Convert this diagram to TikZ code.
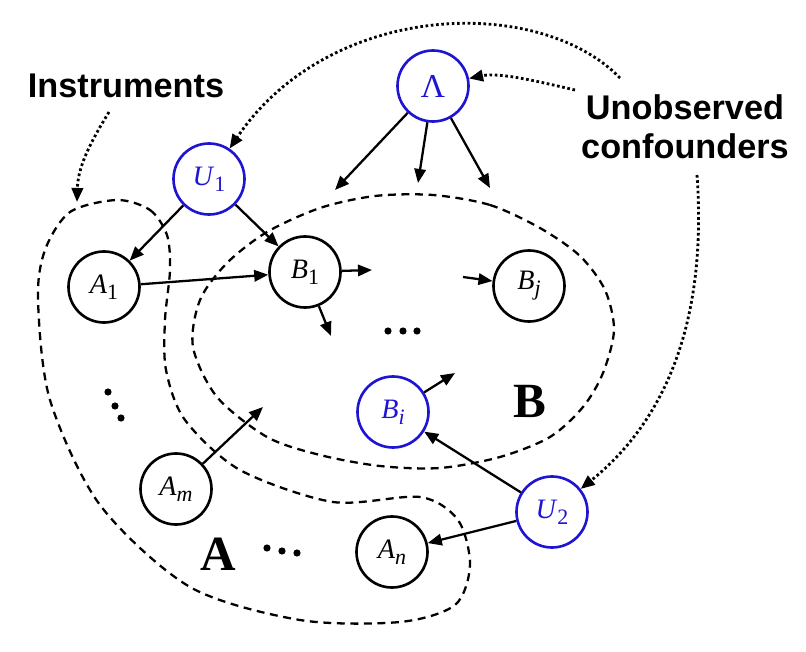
\documentclass[tikz,border=0pt]{standalone}
\usepackage{fontspec}
\setmainfont{Liberation Serif}
\newfontfamily\labelfont{Liberation Sans}
\usetikzlibrary{arrows.meta}
\definecolor{nodeblue}{RGB}{30,20,210}
\newcommand\varlab[2]{\textit{#1}\raisebox{-0.45ex}{\fontsize{12.5}{13}\selectfont #2}}

\begin{document}
\begin{tikzpicture}[x=0.2mm,y=-0.2mm,
    var/.style={circle,draw,line width=1.5pt,minimum size=14.2mm,inner sep=0pt,font=\fontsize{16}{17}\selectfont},
    hidden/.style={var,draw=nodeblue,text=nodeblue},
    edge/.style={line width=1.3pt,-{Triangle[length=8pt,width=6.5pt]}},
    hint/.style={line width=1.6pt,dash pattern=on 1.5pt off 1.5pt,-{Triangle[length=8pt,width=6.5pt]}},
    group/.style={line width=1.3pt,dash pattern=on 4.5pt off 3.2pt},
    setname/.style={font=\fontsize{28}{30}\selectfont\bfseries},
    note/.style={font=\labelfont\bfseries\fontsize{19.5}{22}\selectfont,align=center}
  ]
  \useasboundingbox (0,0) rectangle (806,652);

  % sets A and B
  \draw[group] plot[smooth cycle] coordinates {(117,200) (150,210) (167,235) (170,270) (165,320) (166,370) (185,420) (240,470) (333,502) (420,497) (458,520) (470,565) (455,605) (400,622) (300,620) (190,587) (100,505) (50,400) (38,300) (45,250) (70,212)};
  \draw[group] plot[smooth cycle] coordinates {(433,195) (490,205) (540,228) (580,256) (605,290) (614,330) (603,373) (583,407) (550,437) (500,457) (440,468) (380,466) (320,455) (267,437) (217,397) (193,347) (200,300) (227,263) (267,232) (320,208) (375,196)};

  % variables
  \node[hidden,font=\fontsize{19}{20}\selectfont] (lam) at (433,86) {Λ};
  \node[hidden] (u1) at (209,179) {\varlab{U}{1}};
  \node[hidden] (u2) at (552,512) {\varlab{U}{2}};
  \node[hidden] (bi) at (393,412) {\varlab{B}{\textit{i}}};
  \node[var] (a1) at (104,287) {\varlab{A}{1}};
  \node[var] (am) at (176,489) {\varlab{A}{\textit{m}}};
  \node[var] (an) at (392,552) {\varlab{A}{\textit{n}}};
  \node[var] (b1) at (305,272) {\varlab{B}{1}};
  \node[var] (bj) at (529,286) {\varlab{B}{\textit{j}}};

  \node[setname] (setA) at (218,554) {A};
  \node[setname] (setB) at (530,401) {B};
  \node[note] (inst) at (126,86) {Instruments};
  \node[note] (conf) at (685,127) {Unobserved\\confounders};

  % dots
  \foreach \p in {(108,392),(115,406),(121,418),(388,331),(403,331),(417,331),(267,548),(282,551),(297,553)}
    \fill \p circle (3.6);

  % free arrow ends
  \coordinate (lamL) at (335,190);
  \coordinate (lamM) at (418,183);
  \coordinate (lamR) at (490,188);
  \coordinate (b1R) at (372,270);
  \coordinate (b1D) at (331,336);
  \coordinate (bjIn) at (463,277);
  \coordinate (biOut) at (455,373);
  \coordinate (amOut) at (263,407);

  \draw[edge] (lam) -- (lamL);
  \draw[edge] (lam) -- (lamM);
  \draw[edge] (lam) -- (lamR);
  \draw[edge] (u1) -- (a1);
  \draw[edge] (u1) -- (b1);
  \draw[edge] (a1) -- (b1);
  \draw[edge] (b1) -- (b1R);
  \draw[edge] (b1) -- (b1D);
  \draw[edge] (bjIn) -- (bj);
  \draw[edge] (bi) -- (biOut);
  \draw[edge] (am) -- (amOut);
  \draw[edge] (u2) -- (bi);
  \draw[edge] (u2) -- (an);

  % pointers from the labels
  \coordinate (confTL) at (620,78);
  \coordinate (confL) at (575,90);
  \coordinate (confB) at (697,175);
  \coordinate (instB) at (109,112);
  \coordinate (aTop) at (77,202);
  \draw[hint] (confTL) .. controls (540,-5) and (330,0) .. (u1);
  \draw[hint] (confL) .. controls (540,82) and (500,72) .. (lam);
  \draw[hint] (confB) .. controls (708,330) and (660,425) .. (u2);
  \draw[hint] (instB) .. controls (92,140) and (78,165) .. (aTop);
\end{tikzpicture}
\end{document}
